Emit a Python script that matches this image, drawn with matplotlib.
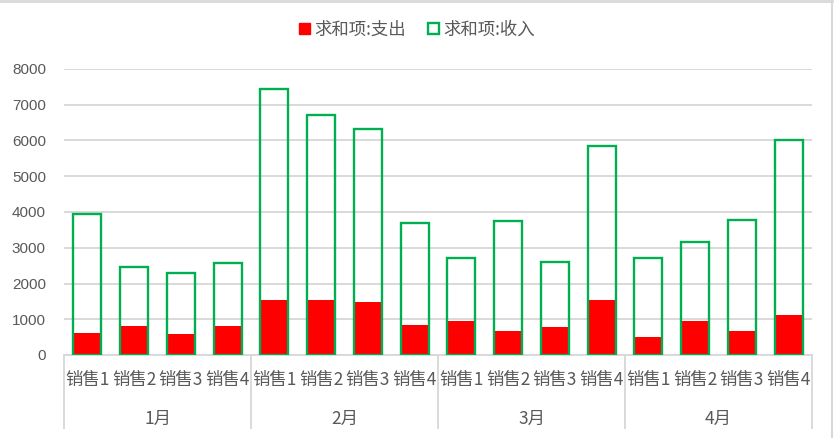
import matplotlib
matplotlib.use("Agg")
import matplotlib.pyplot as plt
from matplotlib.patches import Patch
from matplotlib.lines import Line2D

plt.rcParams['font.family'] = ['Noto Sans CJK SC', 'DejaVu Sans']

months = ["1月", "2月", "3月", "4月"]
sellers = ["销售1", "销售2", "销售3", "销售4"]
income = [3950, 2470, 2300, 2560,
          7440, 6720, 6330, 3700,
          2720, 3760, 2610, 5860,
          2720, 3170, 3790, 6000]
expense = [615, 810, 590, 810,
           1540, 1540, 1480, 840,
           950, 670, 780, 1540,
           500, 950, 670, 1120]

TEXT = "#595959"
GRID = "#D9D9D9"

fig = plt.figure(figsize=(8.34, 4.38), dpi=100)
ax = fig.add_axes([64 / 834, 1 - 355 / 438, 748 / 834, 286 / 438])

x = list(range(len(income)))
ax.bar(x, expense, width=0.6, color="#FF0000", zorder=2)
ax.bar(x, income, width=0.6, fill=False, edgecolor="#00B050",
       linewidth=1.7, zorder=3)

ax.set_xlim(-0.5, len(income) - 0.5)
ax.set_ylim(0, 8000)
ax.set_yticks(range(0, 8001, 1000))
ax.yaxis.grid(True, color=GRID, linewidth=1.4, zorder=0)
ax.set_axisbelow(True)
for s in ["left", "right", "top"]:
    ax.spines[s].set_visible(False)
ax.spines["bottom"].set_color(GRID)
ax.spines["bottom"].set_linewidth(1.4)
ax.tick_params(axis="y", length=0, pad=13, labelsize=11, labelcolor=TEXT)
for lab in ax.get_yticklabels():
    lab.set_family(["Liberation Sans", "DejaVu Sans"])
ax.set_xticks([])

# two-level category axis
tr = ax.get_xaxis_transform()
for i in x:
    ax.text(i, -0.087, sellers[i % 4], transform=tr, ha="center", va="center",
            fontsize=12.5, color=TEXT)
for m, name in enumerate(months):
    ax.text(m * 4 + 1.5, -0.222, name, transform=tr, ha="center",
            va="center", fontsize=12.5, color=TEXT)
for b in range(len(months) + 1):
    ax.add_line(Line2D([b * 4 - 0.5] * 2, [0, -0.255], transform=tr,
                       color=GRID, linewidth=1.4, clip_on=False))

handles = [Patch(facecolor="#FF0000", edgecolor="#FF0000"),
           Patch(facecolor="none", edgecolor="#00B050", linewidth=1.7)]
fig.legend(handles, ["求和项:支出", "求和项:收入"], loc="center",
           bbox_to_anchor=(0.5, 1 - 29.5 / 438), ncol=2, frameon=False,
           fontsize=12.5, labelcolor=TEXT, handlelength=0.6, handleheight=0.6,
           handletextpad=0.25, columnspacing=1.3)

# chart area border
fig.add_artist(Line2D([0, 0.9975], [0.997, 0.997], color=GRID, linewidth=2))
fig.add_artist(Line2D([0.9975, 0.9975], [0, 0.997], color=GRID, linewidth=1.5))

fig.savefig("out.png", dpi=100)
